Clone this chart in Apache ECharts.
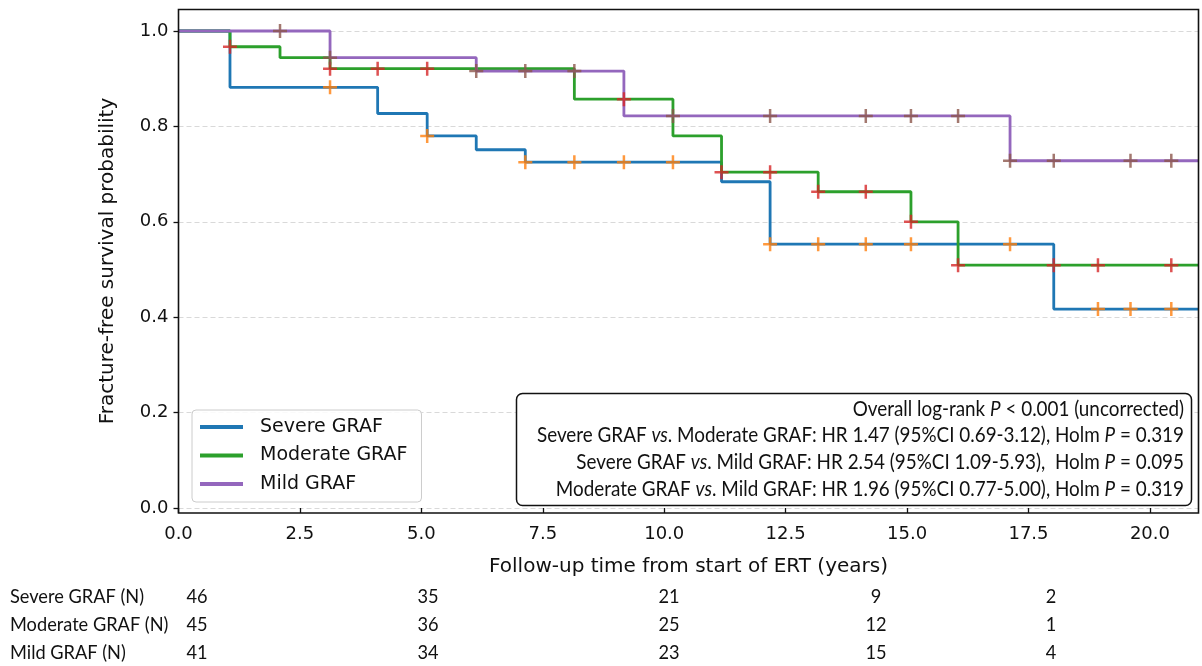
<!DOCTYPE html>
<html>
<head>
<meta charset="utf-8">
<script src="https://cdn.jsdelivr.net/npm/echarts@6/dist/echarts.min.js"></script>
<style>html,body{margin:0;padding:0;background:#fff}#c{width:1202px;height:666px}</style>
</head>
<body>
<div id="c"></div>
<script>
// ---------- data ----------
const xTickValues = [0, 2.5, 5, 7.5, 10, 12.5, 15, 17.5, 20];

const severeTimes = [0, 1.06, 4.10, 5.12, 6.13, 7.14, 11.18, 12.18, 18.02, 21];
const severeSurv  = [1.0, 0.882, 0.827, 0.780, 0.751, 0.725, 0.684, 0.553, 0.417, 0.417];
const severeCensor = [3.12, 5.12, 7.14, 8.15, 9.17, 10.18, 12.18, 13.17, 14.15, 15.08, 17.12, 18.93, 19.60, 20.44];

const moderateTimes = [0, 1.06, 2.09, 3.12, 8.15, 10.18, 11.18, 13.17, 15.08, 16.05, 21];
const moderateSurv  = [1.0, 0.967, 0.944, 0.921, 0.857, 0.780, 0.704, 0.663, 0.600, 0.509, 0.509];
const moderateCensor = [1.06, 3.12, 4.10, 5.12, 9.17, 11.18, 12.18, 13.17, 14.15, 15.08, 16.05, 18.02, 18.93, 20.44];

const mildTimes = [0, 3.12, 6.13, 9.17, 17.12, 21];
const mildSurv  = [1.0, 0.944, 0.916, 0.822, 0.728, 0.728];
const mildCensor = [2.09, 3.12, 6.13, 7.14, 8.15, 10.18, 12.18, 14.15, 15.08, 16.05, 17.12, 18.02, 19.60, 20.44];

const groupNames = ['Severe GRAF', 'Moderate GRAF', 'Mild GRAF'];
const riskLabels = ['Severe GRAF (N)', 'Moderate GRAF (N)', 'Mild GRAF (N)'];
const riskSevere = [46, 35, 21, 9, 2];
const riskModerate = [45, 36, 25, 12, 1];
const riskMild = [41, 34, 23, 15, 4];

const statLines = [
  'Overall log-rank {i|P} < 0.001 (uncorrected)',
  'Severe GRAF {i|vs}. Moderate GRAF: HR 1.47 (95%CI 0.69-3.12), Holm {i|P} = 0.319',
  'Severe GRAF {i|vs}. Mild GRAF: HR 2.54 (95%CI 1.09-5.93),  Holm {i|P} = 0.095',
  'Moderate GRAF {i|vs}. Mild GRAF: HR 1.96 (95%CI 0.77-5.00), Holm {i|P} = 0.319'
];

// ---------- styling / layout ----------
const lineColors = ['#1f77b4', '#2ca02c', '#9467bd'];
const censorColors = ['#ff7f0e', '#d62728', '#8c564b'];
const narrowFont = 'Lato, "Noto Sans", sans-serif';
const mainFont = '"DejaVu Sans", sans-serif';
const riskCols = [197, 428, 669, 876, 1051];
const riskRows = [597, 625, 653];

function survAt(times, surv, t) {
  let s = surv[0];
  for (let i = 0; i < times.length; i++) if (times[i] <= t + 1e-9) s = surv[i];
  return s;
}

const plusPath = 'path://M-1.25,-7L1.25,-7L1.25,-1.25L7,-1.25L7,1.25L1.25,1.25L1.25,7L-1.25,7L-1.25,1.25L-7,1.25L-7,-1.25L-1.25,-1.25Z';

const groups = [
  [severeTimes, severeSurv, severeCensor],
  [moderateTimes, moderateSurv, moderateCensor],
  [mildTimes, mildSurv, mildCensor]
];

const series = [];
groups.forEach((g, k) => {
  const [times, surv, cens] = g;
  series.push({
    name: groupNames[k],
    type: 'line',
    step: 'end',
    data: times.map((t, i) => [t, surv[i]]),
    showSymbol: false,
    clip: false,
    color: lineColors[k],
    lineStyle: { width: 2.8, color: lineColors[k] },
    z: 2
  });
  series.push({
    name: groupNames[k] + ' censored',
    type: 'scatter',
    data: cens.map(t => [t, survAt(times, surv, t)]),
    symbol: plusPath,
    symbolSize: 14,
    clip: false,
    itemStyle: { color: censorColors[k] },
    z: 2
  });
});

const graphics = [];
// plot frame
graphics.push({
  type: 'rect', z: 50, silent: true,
  shape: { x: 178.5, y: 9.5, width: 1020, height: 503.5 },
  style: { fill: 'transparent', stroke: '#111', lineWidth: 1.6 }
});
// axis titles
graphics.push({
  type: 'text', z: 50, x: 108, y: 261, rotation: Math.PI / 2,
  style: { text: 'Fracture-free survival probability', font: '20px ' + mainFont, fill: '#111', align: 'center', verticalAlign: 'middle' }
});
graphics.push({
  type: 'text', z: 50, x: 688.5, y: 567,
  style: { text: 'Follow-up time from start of ERT (years)', font: '20px ' + mainFont, fill: '#111', align: 'center', verticalAlign: 'middle' }
});
// stats box
graphics.push({
  type: 'rect', z: 40,
  shape: { x: 516.5, y: 393.5, width: 675, height: 112, r: 6 },
  style: { fill: '#fff', stroke: '#111', lineWidth: 1.5 }
});
const statY = [409, 435.5, 462, 489];
statLines.forEach((s, i) => {
  graphics.push({
    type: 'text', z: 41, x: 1184, y: statY[i], scaleX: 0.92,
    style: {
      text: s, fontSize: 20.5, fontFamily: narrowFont, fill: '#111', align: 'right', verticalAlign: 'middle',
      rich: { i: { fontSize: 20.5, fontFamily: narrowFont, fontStyle: 'italic', fill: '#111' } }
    }
  });
});
// risk table
const riskData = [riskSevere, riskModerate, riskMild];
riskLabels.forEach((lab, r) => {
  graphics.push({
    type: 'text', x: 10, y: riskRows[r], scaleX: 0.91,
    style: { text: lab, fontSize: 20, fontFamily: narrowFont, fill: '#111', align: 'left', verticalAlign: 'middle' }
  });
  riskData[r].forEach((v, c) => {
    graphics.push({
      type: 'text', x: riskCols[c], y: riskRows[r], scaleX: 0.91,
      style: { text: String(v), fontSize: 20, fontFamily: narrowFont, fill: '#111', align: 'center', verticalAlign: 'middle' }
    });
  });
});

const chart = echarts.init(document.getElementById('c'), null, { renderer: 'canvas' });
chart.setOption({
  animation: false,
  backgroundColor: '#fff',
  grid: { left: 178.5, right: 3.5, top: 31, bottom: 158, containLabel: false },
  xAxis: {
    type: 'value', min: 0, max: 21, interval: 2.5, offset: 5,
    axisLine: { show: false },
    axisTick: { show: true, length: 5, lineStyle: { color: '#111', width: 1.3 }, customValues: xTickValues },
    axisLabel: { show: true, customValues: xTickValues, margin: 12, fontSize: 18, fontFamily: mainFont, color: '#111',
      formatter: v => v.toFixed(1) },
    splitLine: { show: false }
  },
  yAxis: {
    type: 'value', min: 0, max: 1, interval: 0.2,
    axisLine: { show: false },
    axisTick: { show: true, length: 5, lineStyle: { color: '#111', width: 1.3 } },
    axisLabel: { margin: 10, fontSize: 18, fontFamily: mainFont, color: '#111', formatter: v => v.toFixed(1) },
    splitLine: { show: true, lineStyle: { color: '#d9d9d9', type: [5, 3], width: 1 } }
  },
  legend: {
    data: groupNames,
    orient: 'vertical',
    left: 192, top: 410,
    padding: [7, 14, 8, 8],
    itemGap: 8.5,
    itemWidth: 43, itemHeight: 4,
    icon: 'rect',
    backgroundColor: 'rgba(255,255,255,0.85)',
    borderColor: '#cccccc', borderWidth: 1, borderRadius: 4,
    textStyle: { fontSize: 19, fontFamily: mainFont, color: '#111', lineHeight: 20, padding: [0, 0, 0, 12] }
  },
  graphic: graphics,
  series: series
});
</script>
</body>
</html>
